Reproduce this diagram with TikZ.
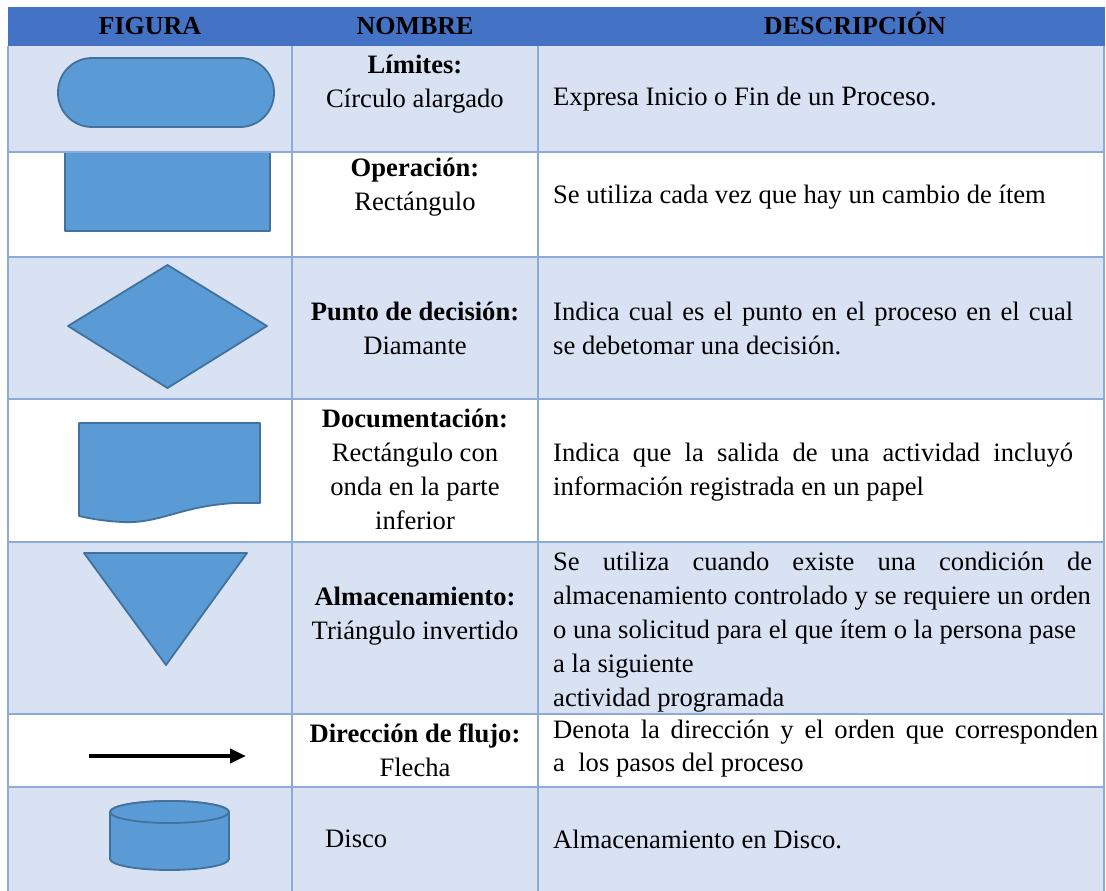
\documentclass[tikz,border=0pt]{standalone}
\usepackage{fontspec}
\setmainfont{Liberation Serif}
\usetikzlibrary{arrows.meta}
\definecolor{cabecera}{HTML}{4472C4}
\definecolor{fila}{HTML}{D9E2F3}
\definecolor{borde}{HTML}{8EAADB}
\definecolor{forma}{HTML}{5B9BD5}
\definecolor{formaborde}{HTML}{41719C}

\begin{document}
\begin{tikzpicture}[x=1pt,y=-1pt,
  figura/.style={fill=forma,draw=formaborde,line width=1.8pt,line join=round},
  rejilla/.style={draw=borde,line width=2pt},
  texto/.style={inner sep=0pt,font=\fontsize{26.6}{34}\selectfont},
  titulo/.style={inner sep=0pt,anchor=base,font=\fontsize{26}{34}\selectfont\bfseries},
  nombre/.style={texto,align=center},
  descr/.style={texto,align=left,anchor=west},
  flecha/.style={line width=4pt,-{Triangle[length=16pt,width=14pt]}}]
\useasboundingbox (0,0) rectangle (1106,891);

\fill[cabecera] (8,7) rectangle (1105,46);
\fill[fila] (8,46) rectangle (1104,152);
\fill[fila] (8,257) rectangle (1104,399);
\fill[fila] (8,542) rectangle (1104,714);
\fill[fila] (8,787) rectangle (1104,891);

\draw[figura,rounded corners=34pt] (58,58) rectangle (274,127);
\draw[figura] (65,152) rectangle (270,231);
\draw[figura] (68,326) -- (167.5,265) -- (267,326) -- (167.5,388) -- cycle;
\draw[figura] (79,423) -- (260,423) -- (260,503) -- (235,503)
  .. controls (180,506) and (160,524) .. (122,522)
  .. controls (102,521) and (88,518) .. (79,516) -- cycle;
\draw[figura] (84,553) -- (247,553) -- (166,665) -- cycle;
\coordinate (flechaA) at (89,756);
\coordinate (flechaB) at (246,756);
\draw[flecha] (flechaA) -- (flechaB);
\draw[figura] (110,812) -- (110,859) arc[start angle=180,end angle=360,x radius=59.5pt,y radius=11pt]
  -- (229,812) arc[start angle=0,end angle=180,x radius=59.5pt,y radius=11pt] -- cycle;
\draw[figura] (169.5,812) ellipse[x radius=59.5pt,y radius=11pt];

\foreach \y in {152,257,399,542,714,787}
  \draw[rejilla] (8,\y) -- (1104,\y);
\foreach \x in {8,292,538,1104}
  \draw[rejilla] (\x,46) -- (\x,891);

\node[titulo] (tFigura) at (150,35) {FIGURA};
\node[titulo] (tNombre) at (415,35) {NOMBRE};
\node[titulo] (tDescr) at (855,35) {DESCRIPCIÓN};

\node[nombre] (nLimites) at (415,84) {\textbf{Límites:}\\Círculo alargado};
\node[nombre] (nOperacion) at (415,187) {\textbf{Operación:}\\Rectángulo};
\node[nombre] (nDecision) at (415,328) {\textbf{Punto de decisión:}\\Diamante};
\node[nombre] (nDocumento) at (415,469) {\textbf{Documentación:}\\Rectángulo con\\onda en la parte\\inferior};
\node[nombre] (nAlmacen) at (415,616) {\textbf{Almacenamiento:}\\Triángulo invertido};
\node[nombre] (nFlujo) at (415,750) {\textbf{Dirección de flujo:}\\Flecha};
\node[texto,anchor=west] (nDisco) at (325,839) {Disco};

\node[descr] (dLimites) at (553,99) {Expresa Inicio o Fin de un {\fontsize{28}{34}\selectfont Proceso.}};
\node[descr] (dOperacion) at (553,197) {Se utiliza cada vez que hay un cambio de ítem};
\node[descr] (dDecision) at (553,328) {\makebox[520pt][s]{Indica cual es el punto en el proceso en el cual}\\se debetomar una decisión.};
\node[descr] (dDocumento) at (553,472) {\makebox[520pt][s]{Indica que la salida de una actividad incluyó}\\información registrada en un papel};
\node[descr] (dAlmacen) at (553,632) {\makebox[539pt][s]{Se utiliza cuando existe una condición de}\\almacenamiento controlado y se requiere un orden\\o una solicitud para el que ítem o la persona pase\\a la siguiente\\actividad programada};
\node[descr,font=\fontsize{26.6}{33}\selectfont] (dFlujo) at (553,749) {\makebox[545pt][s]{Denota la dirección y el orden que corresponden}\\a\ \ los pasos del proceso};
\node[descr] (dDisco) at (553,839) {Almacenamiento en Disco.};
\end{tikzpicture}
\end{document}
